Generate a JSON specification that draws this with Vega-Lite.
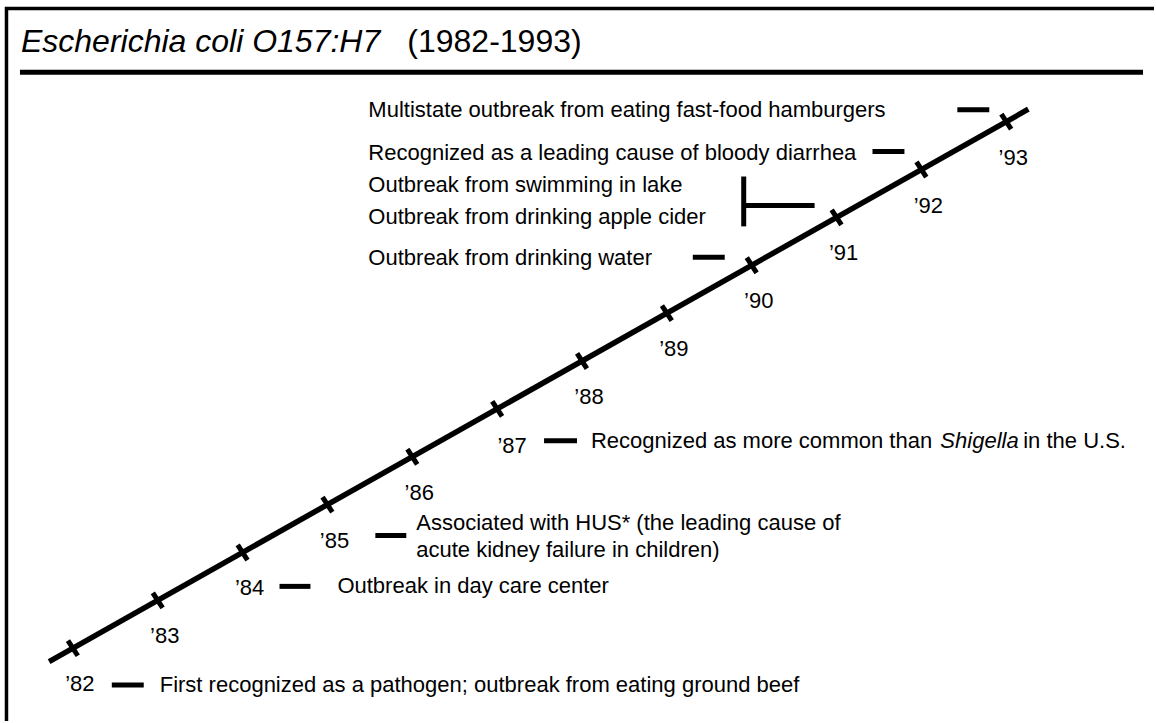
{
  "$schema": "https://vega.github.io/schema/vega-lite/v6.json",
  "width": 1156,
  "height": 723,
  "autosize": {"type": "fit", "contains": "padding"},
  "padding": 0,
  "background": "white",
  "config": {"view": {"stroke": null}, "text": {"font": "Liberation Sans", "color": "black"}},
  "datasets": {
    "frame": [
      {"part": "left border", "x": 1981.2176, "x2": 1981.2176, "y": 1995.3958, "y2": 1980.4792},
      {"part": "top border", "x": 1981.2, "x2": 1994.7412, "y": 1995.3646, "y2": 1995.3646}
    ],
    "underline": [
      {"part": "title underline", "x": 1981.3765, "x2": 1994.6118, "y": 1994.0313, "y2": 1994.0313}
    ],
    "timeline": [{"t": 1981.72}, {"t": 1993.26}],
    "years": [
      {"year": 1982, "label": "’82"}, {"year": 1983, "label": "’83"}, {"year": 1984, "label": "’84"},
      {"year": 1985, "label": "’85"}, {"year": 1986, "label": "’86"}, {"year": 1987, "label": "’87"},
      {"year": 1988, "label": "’88"}, {"year": 1989, "label": "’89"}, {"year": 1990, "label": "’90"},
      {"year": 1991, "label": "’91"}, {"year": 1992, "label": "’92"}, {"year": 1993, "label": "’93"}
    ],
    "connectors": [
      {"year": 1982, "x": 1982.4588, "x2": 1982.8353, "y": 1981.2292, "y2": 1981.2292},
      {"year": 1984, "x": 1984.4353, "x2": 1984.8, "y": 1983.2917, "y2": 1983.2917},
      {"year": 1985, "x": 1985.5647, "x2": 1985.9294, "y": 1984.3542, "y2": 1984.3542},
      {"year": 1987, "x": 1987.5529, "x2": 1987.9412, "y": 1986.3333, "y2": 1986.3333},
      {"year": 1990, "x": 1989.3059, "x2": 1989.6824, "y": 1990.1667, "y2": 1990.1667},
      {"year": 1991, "x": 1989.9059, "x2": 1989.9059, "y": 1991.8542, "y2": 1990.8125},
      {"year": 1991, "x": 1989.9059, "x2": 1990.7412, "y": 1991.25, "y2": 1991.25},
      {"year": 1992, "x": 1991.4235, "x2": 1991.8, "y": 1992.375, "y2": 1992.375},
      {"year": 1993, "x": 1992.4235, "x2": 1992.8, "y": 1993.25, "y2": 1993.25}
    ],
    "notes": [
      {"year": 1982, "x": 1983.0235, "y": 1981.2292, "text": "First recognized as a pathogen; outbreak from eating ground beef"},
      {"year": 1984, "x": 1985.1176, "y": 1983.2917, "text": "Outbreak in day care center"},
      {"year": 1985, "x": 1986.0471, "y": 1984.625, "text": "Associated with HUS* (the leading cause of"},
      {"year": 1985, "x": 1986.0471, "y": 1984.0417, "text": "acute kidney failure in children)"},
      {"year": 1987, "x": 1988.1059, "y": 1986.3333, "text": "Recognized as more common than"},
      {"year": 1987, "x": 1993.2, "y": 1986.3333, "text": "in the U.S."},
      {"year": 1990, "x": 1985.4824, "y": 1990.1458, "text": "Outbreak from drinking water"},
      {"year": 1991, "x": 1985.4824, "y": 1991.0, "text": "Outbreak from drinking apple cider"},
      {"year": 1991, "x": 1985.4824, "y": 1991.6667, "text": "Outbreak from swimming in lake"},
      {"year": 1992, "x": 1985.4824, "y": 1992.3542, "text": "Recognized as a leading cause of bloody diarrhea"},
      {"year": 1993, "x": 1985.4824, "y": 1993.25, "text": "Multistate outbreak from eating fast-food hamburgers"}
    ],
    "taxa": [
      {"year": 1987, "x": 1992.2235, "y": 1986.3333, "text": "Shigella"}
    ],
    "title": [
      {"kind": "organism", "x": 1981.3882, "y": 1994.6667, "text": "Escherichia coli O157:H7"},
      {"kind": "period", "x": 1985.9412, "y": 1994.6667, "text": "(1982-1993)"}
    ]
  },
  "layer": [
    {
      "data": {"name": "frame"},
      "mark": {"type": "rule", "strokeWidth": 3.5, "color": "black"},
      "encoding": {
        "x": {"field": "x", "type": "quantitative", "axis": null, "scale": {"domain": [1981.1412, 1994.7412], "nice": false, "zero": false}},
        "x2": {"field": "x2"},
        "y": {"field": "y", "type": "quantitative", "axis": null, "scale": {"domain": [1980.4792, 1995.5417], "nice": false, "zero": false}},
        "y2": {"field": "y2"}
      }
    },
    {
      "data": {"name": "underline"},
      "mark": {"type": "rule", "strokeWidth": 5, "color": "black"},
      "encoding": {
        "x": {"field": "x", "type": "quantitative", "axis": null, "scale": {"domain": [1981.1412, 1994.7412], "nice": false, "zero": false}},
        "x2": {"field": "x2"},
        "y": {"field": "y", "type": "quantitative", "axis": null, "scale": {"domain": [1980.4792, 1995.5417], "nice": false, "zero": false}},
        "y2": {"field": "y2"}
      }
    },
    {
      "data": {"name": "timeline"},
      "mark": {"type": "line", "strokeWidth": 5.5, "color": "black", "strokeCap": "butt"},
      "encoding": {
        "x": {"field": "t", "type": "quantitative", "axis": null, "scale": {"domain": [1981.1412, 1994.7412], "nice": false, "zero": false}},
        "y": {"field": "t", "type": "quantitative", "axis": null, "scale": {"domain": [1980.4792, 1995.5417], "nice": false, "zero": false}}
      }
    },
    {
      "data": {"name": "years"},
      "mark": {"type": "point", "shape": "M0,-1L0,1", "size": 324, "angle": 327, "filled": false, "stroke": "black", "strokeWidth": 5, "opacity": 1},
      "encoding": {
        "x": {"field": "year", "type": "quantitative", "axis": null, "scale": {"domain": [1981.1412, 1994.7412], "nice": false, "zero": false}},
        "y": {"field": "year", "type": "quantitative", "axis": null, "scale": {"domain": [1980.4792, 1995.5417], "nice": false, "zero": false}}
      }
    },
    {
      "data": {"name": "years"},
      "transform": [{"filter": "datum.year != 1987"}],
      "mark": {"type": "text", "fontSize": 22, "align": "center", "baseline": "middle", "dx": 7, "dy": 36},
      "encoding": {
        "x": {"field": "year", "type": "quantitative", "axis": null, "scale": {"domain": [1981.1412, 1994.7412], "nice": false, "zero": false}},
        "y": {"field": "year", "type": "quantitative", "axis": null, "scale": {"domain": [1980.4792, 1995.5417], "nice": false, "zero": false}},
        "text": {"field": "label"}
      }
    },
    {
      "data": {"name": "years"},
      "transform": [{"filter": "datum.year == 1987"}],
      "mark": {"type": "text", "fontSize": 22, "align": "center", "baseline": "middle", "dx": 15, "dy": 37},
      "encoding": {
        "x": {"field": "year", "type": "quantitative", "axis": null, "scale": {"domain": [1981.1412, 1994.7412], "nice": false, "zero": false}},
        "y": {"field": "year", "type": "quantitative", "axis": null, "scale": {"domain": [1980.4792, 1995.5417], "nice": false, "zero": false}},
        "text": {"field": "label"}
      }
    },
    {
      "data": {"name": "connectors"},
      "mark": {"type": "rule", "strokeWidth": 5, "color": "black"},
      "encoding": {
        "x": {"field": "x", "type": "quantitative", "axis": null, "scale": {"domain": [1981.1412, 1994.7412], "nice": false, "zero": false}},
        "x2": {"field": "x2"},
        "y": {"field": "y", "type": "quantitative", "axis": null, "scale": {"domain": [1980.4792, 1995.5417], "nice": false, "zero": false}},
        "y2": {"field": "y2"}
      }
    },
    {
      "data": {"name": "notes"},
      "mark": {"type": "text", "fontSize": 22, "align": "left", "baseline": "middle"},
      "encoding": {
        "x": {"field": "x", "type": "quantitative", "axis": null, "scale": {"domain": [1981.1412, 1994.7412], "nice": false, "zero": false}},
        "y": {"field": "y", "type": "quantitative", "axis": null, "scale": {"domain": [1980.4792, 1995.5417], "nice": false, "zero": false}},
        "text": {"field": "text"}
      }
    },
    {
      "data": {"name": "taxa"},
      "mark": {"type": "text", "fontSize": 22, "align": "left", "baseline": "middle", "fontStyle": "italic"},
      "encoding": {
        "x": {"field": "x", "type": "quantitative", "axis": null, "scale": {"domain": [1981.1412, 1994.7412], "nice": false, "zero": false}},
        "y": {"field": "y", "type": "quantitative", "axis": null, "scale": {"domain": [1980.4792, 1995.5417], "nice": false, "zero": false}},
        "text": {"field": "text"}
      }
    },
    {
      "data": {"name": "title"},
      "transform": [{"filter": "datum.kind == 'organism'"}],
      "mark": {"type": "text", "fontSize": 32, "align": "left", "baseline": "middle", "fontStyle": "italic"},
      "encoding": {
        "x": {"field": "x", "type": "quantitative", "axis": null, "scale": {"domain": [1981.1412, 1994.7412], "nice": false, "zero": false}},
        "y": {"field": "y", "type": "quantitative", "axis": null, "scale": {"domain": [1980.4792, 1995.5417], "nice": false, "zero": false}},
        "text": {"field": "text"}
      }
    },
    {
      "data": {"name": "title"},
      "transform": [{"filter": "datum.kind == 'period'"}],
      "mark": {"type": "text", "fontSize": 32, "align": "left", "baseline": "middle"},
      "encoding": {
        "x": {"field": "x", "type": "quantitative", "axis": null, "scale": {"domain": [1981.1412, 1994.7412], "nice": false, "zero": false}},
        "y": {"field": "y", "type": "quantitative", "axis": null, "scale": {"domain": [1980.4792, 1995.5417], "nice": false, "zero": false}},
        "text": {"field": "text"}
      }
    }
  ]
}
